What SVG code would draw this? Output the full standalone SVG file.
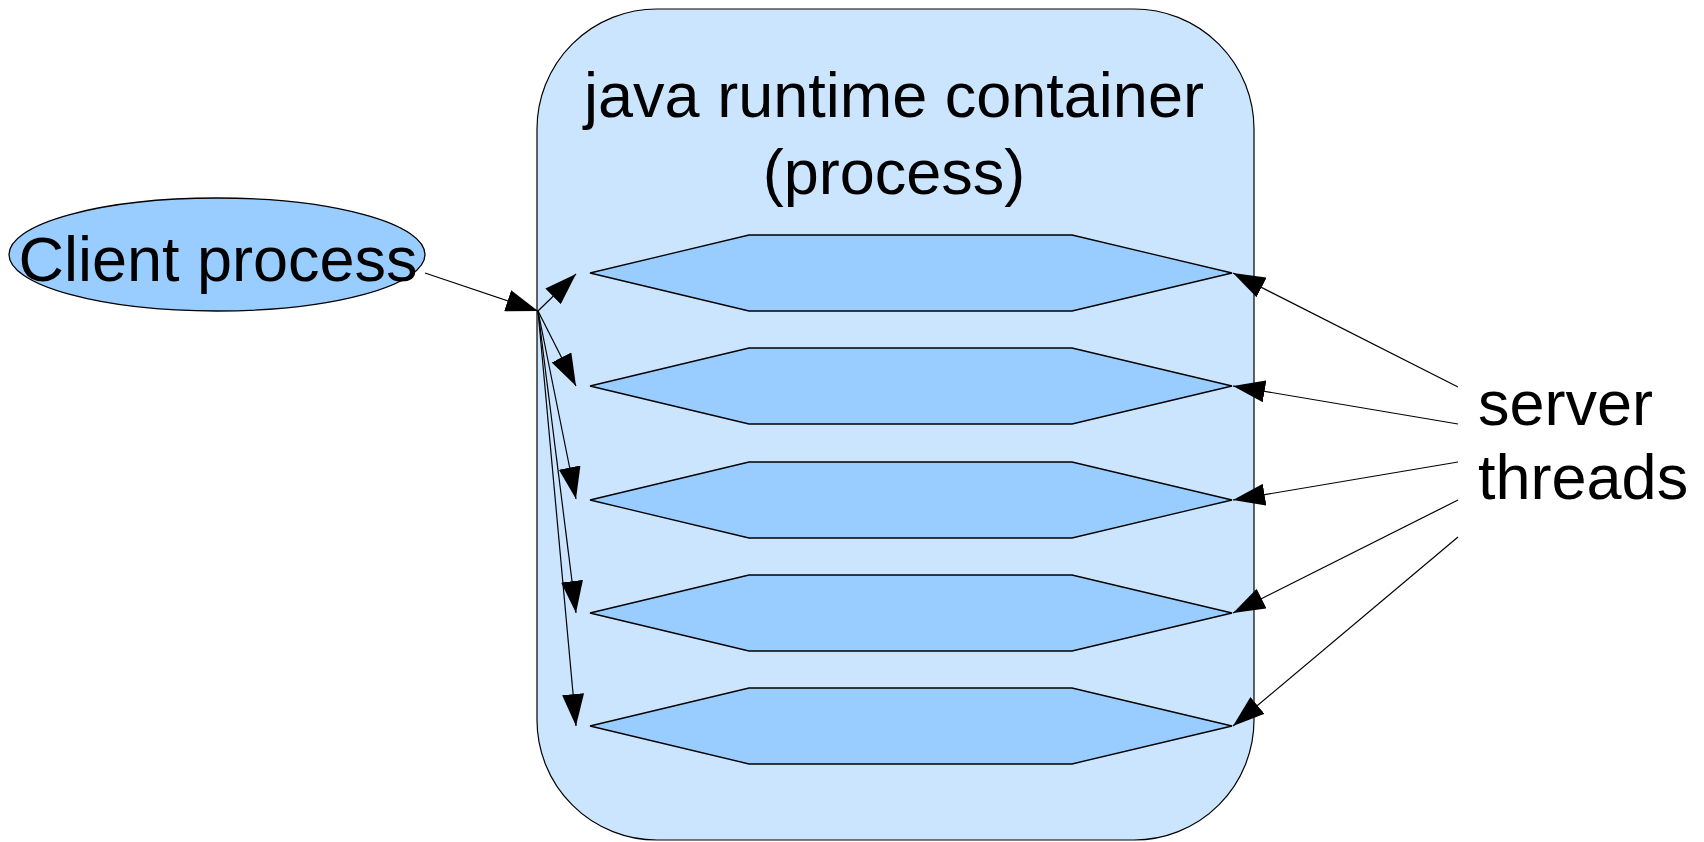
<svg xmlns="http://www.w3.org/2000/svg" width="1704" height="842" viewBox="0 0 1704 842">
<style>
.txt{font-family:"Liberation Sans",Arial,sans-serif;font-size:63px;fill:#000}
.hex{fill:#99ccff;stroke:#000;stroke-width:1.3}
.con{fill:none;stroke:#000;stroke-width:1.2}
</style>
<defs>
<marker id="ah" markerUnits="userSpaceOnUse" markerWidth="32" markerHeight="22" refX="32" refY="11" orient="auto" viewBox="0 0 32 22">
<path d="M0,0 L32,11 L0,22 z" fill="#000"/>
</marker>
</defs>
<rect width="1704" height="842" fill="#fff"/>
<g id="container">
<rect x="537" y="9" width="717" height="831" rx="120" ry="120" fill="#cce5ff" stroke="#000" stroke-width="1.2"/>
<text class="txt" x="894" y="117" text-anchor="middle" font-size="64">java runtime container</text>
<text class="txt" x="894" y="194" text-anchor="middle" font-size="64">(process)</text>
</g>
<g id="client">
<ellipse cx="217" cy="254.5" rx="208" ry="56.5" fill="#99ccff" stroke="#000" stroke-width="1.3"/>
<text class="txt" x="218" y="281" text-anchor="middle" font-size="64">Client process</text>
</g>
<g id="thread1"><polygon class="hex" points="590,273 749,235 1072,235 1232,273 1072,311 749,311"/></g>
<g id="thread2"><polygon class="hex" points="590,386 749,348 1072,348 1232,386 1072,424 749,424"/></g>
<g id="thread3"><polygon class="hex" points="590,500 749,462 1072,462 1232,500 1072,538 749,538"/></g>
<g id="thread4"><polygon class="hex" points="590,613 749,575 1072,575 1232,613 1072,651 749,651"/></g>
<g id="thread5"><polygon class="hex" points="590,726 749,688 1072,688 1232,726 1072,764 749,764"/></g>
<g id="label">
<text class="txt" x="1478" y="425">server</text>
<text class="txt" x="1478" y="499">threads</text>
</g>
<g id="connectors" class="con">
<line x1="425" y1="273" x2="538" y2="311" marker-end="url(#ah)"/>
<line x1="538" y1="311" x2="576" y2="274" marker-end="url(#ah)"/>
<line x1="538" y1="311" x2="576" y2="386" marker-end="url(#ah)"/>
<line x1="538" y1="311" x2="576" y2="499" marker-end="url(#ah)"/>
<line x1="538" y1="311" x2="576" y2="613" marker-end="url(#ah)"/>
<line x1="538" y1="311" x2="576" y2="726" marker-end="url(#ah)"/>
<line x1="1458" y1="387" x2="1233" y2="273" marker-end="url(#ah)"/>
<line x1="1458" y1="424" x2="1233" y2="386" marker-end="url(#ah)"/>
<line x1="1458" y1="462" x2="1233" y2="500" marker-end="url(#ah)"/>
<line x1="1458" y1="500" x2="1233" y2="613" marker-end="url(#ah)"/>
<line x1="1458" y1="537" x2="1233" y2="726" marker-end="url(#ah)"/>
</g>
</svg>
